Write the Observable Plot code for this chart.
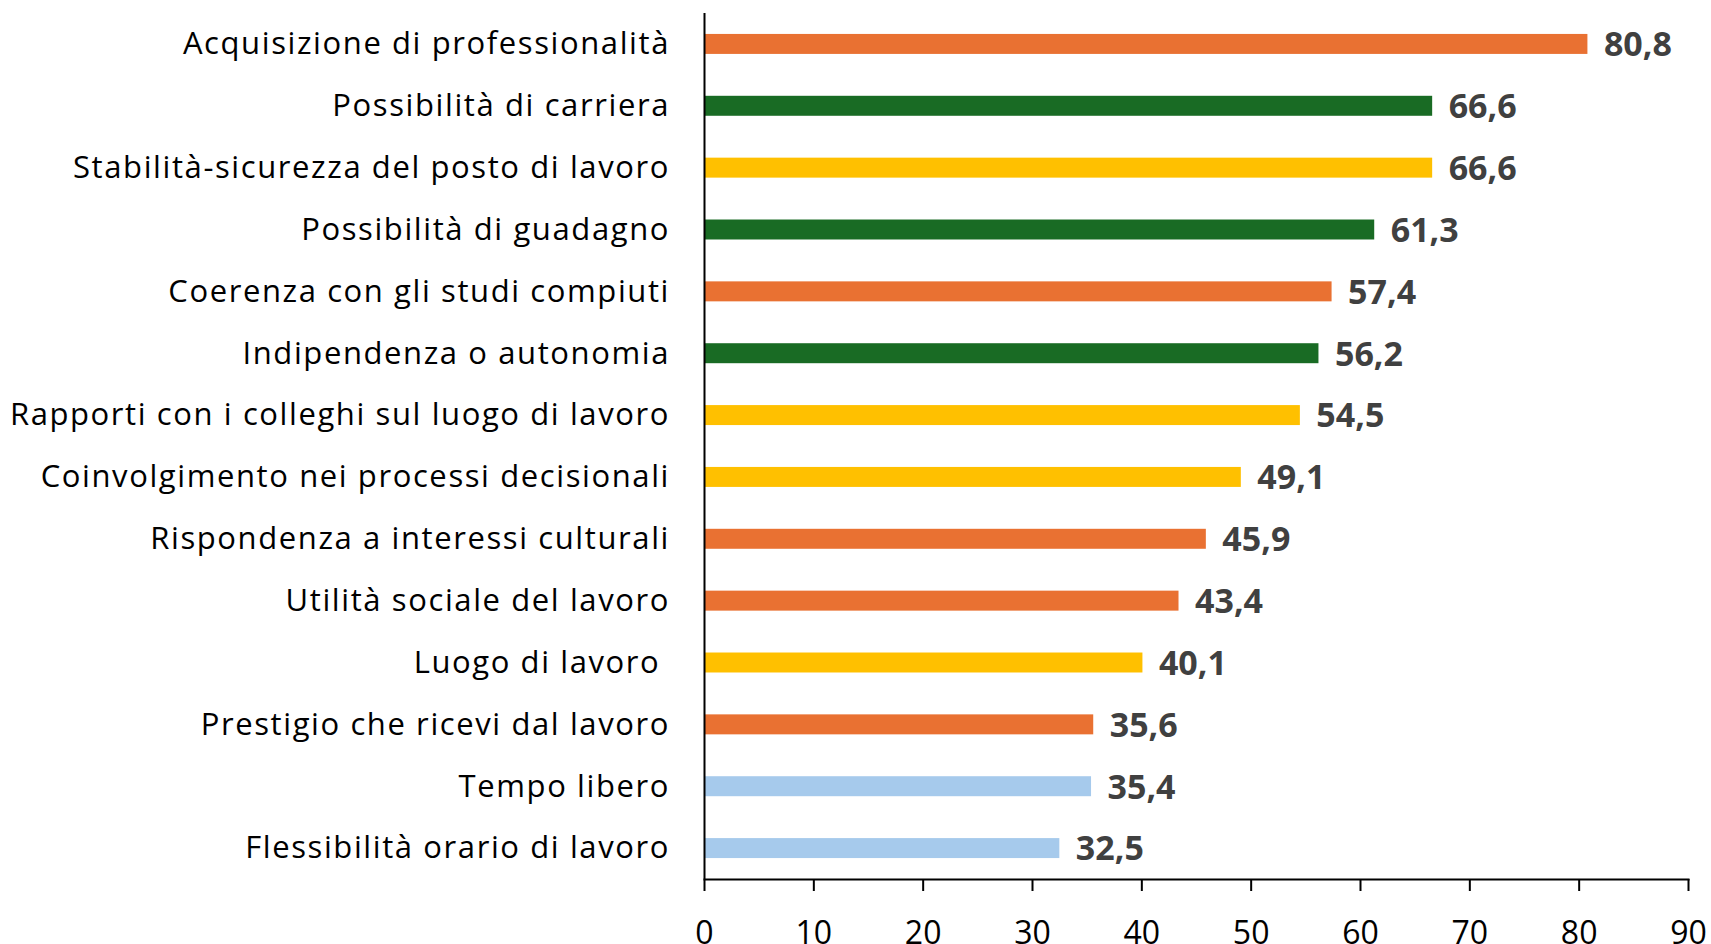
<!DOCTYPE html>
<html>
<head>
<meta charset="utf-8">
<script src="https://cdn.jsdelivr.net/npm/d3@7"></script>
<script src="https://cdn.jsdelivr.net/npm/@observablehq/plot@0.6"></script>
<style>
  html, body { margin: 0; padding: 0; background: #fff; }
  svg text { white-space: pre; }
  .ylab text { letter-spacing: 1.6px; }
</style>
</head>
<body>
<div id="chart"></div>
<script>
const categories = [
  "Acquisizione di professionalità",
  "Possibilità di carriera",
  "Stabilità-sicurezza del posto di lavoro",
  "Possibilità di guadagno",
  "Coerenza con gli studi compiuti",
  "Indipendenza o autonomia",
  "Rapporti con i colleghi sul luogo di lavoro",
  "Coinvolgimento nei processi decisionali",
  "Rispondenza a interessi culturali",
  "Utilità sociale del lavoro",
  "Luogo di lavoro ",
  "Prestigio che ricevi dal lavoro",
  "Tempo libero",
  "Flessibilità orario di lavoro"
];
const values = [80.8, 66.6, 66.6, 61.3, 57.4, 56.2, 54.5, 49.1, 45.9, 43.4, 40.1, 35.6, 35.4, 32.5];
const barColors = [
  "#E97132", "#196B24", "#FFC000", "#196B24", "#E97132", "#196B24", "#FFC000",
  "#FFC000", "#E97132", "#E97132", "#FFC000", "#E97132", "#A6CAEC", "#A6CAEC"
];
const xTicks = [0, 10, 20, 30, 40, 50, 60, 70, 80, 90];

const data = categories.map((c, i) => ({label: c, value: values[i], color: barColors[i]}));
const fmt = v => v.toFixed(1).replace(".", ",");

const chart = Plot.plot({
  width: 1711,
  height: 944,
  marginLeft: 704,
  marginRight: 23,
  marginTop: 13,
  marginBottom: 65,
  style: {fontFamily: "'Open Sans', sans-serif", fontSize: "30px", color: "#000", background: "#fff"},
  x: {domain: [0, 90]},
  y: {domain: categories, paddingInner: 0.677, paddingOuter: 0.3385, round: false},
  color: {type: "identity"},
  marks: [
    Plot.barX(data, {x: "value", y: "label", fill: "color"}),
    Plot.text(data, {
      x: "value", y: "label", text: d => fmt(d.value),
      dx: 16, dy: 1, textAnchor: "start", fontWeight: "bold", fontSize: 34, fill: "#404040"
    }),
    Plot.axisY({tickSize: 0, tickPadding: 34.5, label: null, fontSize: 31, className: "ylab"}),
    Plot.axisX({ticks: xTicks, tickSize: 12, tickPadding: 30, label: null, strokeWidth: 2, fontSize: 32, tickFormat: d => String(d)}),
    Plot.ruleX([0], {strokeWidth: 2, stroke: "#000"}),
    Plot.frame({anchor: "bottom", strokeWidth: 2, stroke: "#000"})
  ]
});
document.getElementById("chart").appendChild(chart);
</script>
</body>
</html>
